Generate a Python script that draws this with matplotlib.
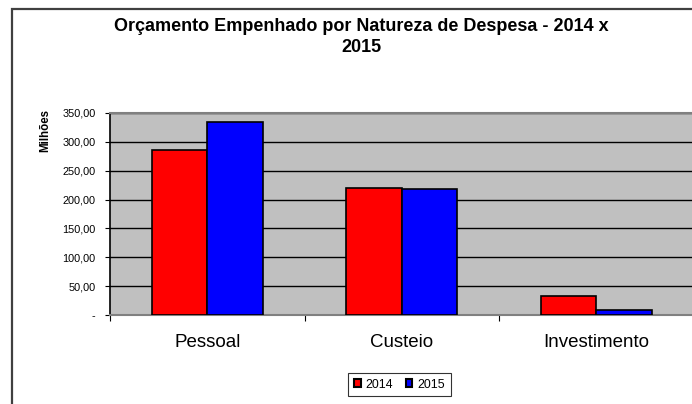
import matplotlib
matplotlib.use("Agg")
import matplotlib.pyplot as plt
from matplotlib.patches import Patch, Rectangle
import numpy as np

plt.rcParams['font.family'] = ['Liberation Sans', 'DejaVu Sans']

# dados (milhões)
categorias = ["Pessoal", "Custeio", "Investimento"]
anos = ["2014", "2015"]
valores_2014 = [286.0, 220.5, 33.0]
valores_2015 = [334.5, 218.5, 8.0]
cores = ["#FF0000", "#0000FF"]
yticks = [0, 50, 100, 150, 200, 250, 300, 350]
ytick_labels = ["-", "50,00", "100,00", "150,00", "200,00", "250,00", "300,00", "350,00"]

W, H = 692, 404
fig = plt.figure(figsize=(W / 100, H / 100), dpi=100)

# moldura do gráfico (sai da imagem à direita e em baixo)
fig.patches.append(Rectangle((12 / W, -0.05), 1.1, 1 - 9 / H + 0.05,
                             transform=fig.transFigure, fill=False,
                             edgecolor="#404040", linewidth=1.6))

ax = fig.add_axes([110 / W, (H - 315) / H, 583.5 / W, 202 / H])
ax.set_facecolor("#C0C0C0")

x = np.arange(len(categorias))
larg = 0.285
ax.bar(x - larg / 2, valores_2014, larg, color=cores[0], edgecolor="black", linewidth=1.2, zorder=3)
ax.bar(x + larg / 2, valores_2015, larg, color=cores[1], edgecolor="black", linewidth=1.2, zorder=3)

ax.set_xlim(-0.5, len(categorias) - 0.5)
ax.set_ylim(0, 350)
ax.set_yticks(yticks)
ax.set_yticklabels(ytick_labels, fontsize=7.8)
ax.yaxis.grid(True, color="black", linewidth=1.0, zorder=1)
ax.set_axisbelow(True)
ax.tick_params(axis="y", direction="out", length=3.5, width=0.8, pad=7)

ax.set_xticks(x)
ax.set_xticklabels(categorias, fontsize=13.5)
ax.tick_params(axis="x", which="major", length=0, pad=14)
ax.set_xticks(np.arange(len(categorias) + 1) - 0.5, minor=True)
ax.tick_params(axis="x", which="minor", direction="out", length=4.5, width=0.8)

for s in ["top", "right", "bottom"]:
    ax.spines[s].set_color("#808080")
    ax.spines[s].set_linewidth(1.5)
ax.spines["left"].set_color("black")
ax.spines["left"].set_linewidth(1.2)

fig.text(45 / W, 1 - 131 / H, "Milhões", rotation=90, fontsize=8.3,
         fontweight="bold", ha="center", va="center")

fig.text(361 / W, 1 - 37 / H,
         "Orçamento Empenhado por Natureza de Despesa - 2014 x\n2015",
         fontsize=13, fontweight="bold", ha="center", va="center",
         linespacing=1.32)

handles = [Patch(facecolor=c, edgecolor="black", linewidth=1.5) for c in cores]
leg = fig.legend(handles, anos, loc="center", bbox_to_anchor=(399.5 / W, 1 - 384.5 / H),
                 ncol=2, fontsize=8.9, frameon=True, fancybox=False,
                 handlelength=0.55, handleheight=0.55, handletextpad=0.4,
                 columnspacing=1.0, borderpad=0.45, borderaxespad=0)
leg.get_frame().set_edgecolor("black")
leg.get_frame().set_linewidth(0.8)

fig.savefig("out.png", dpi=100)
